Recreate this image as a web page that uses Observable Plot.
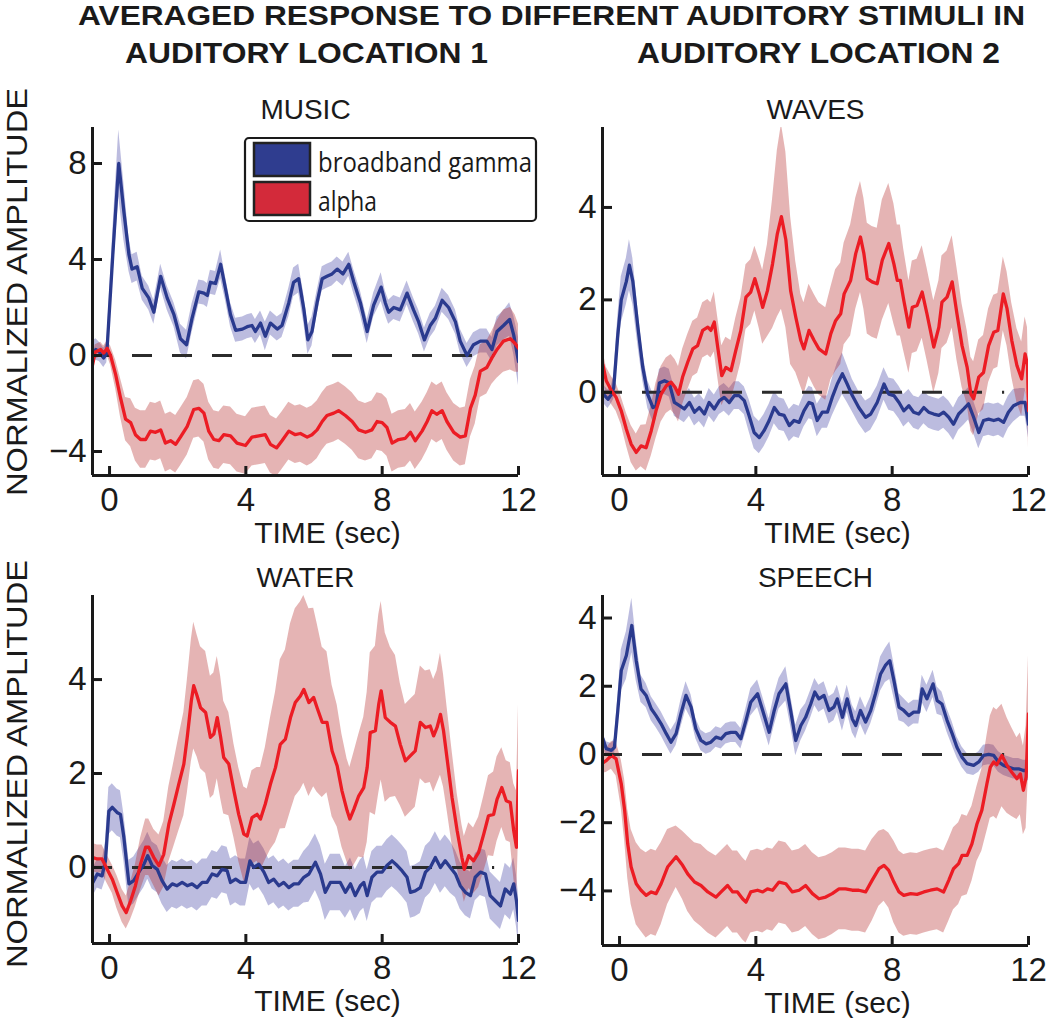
<!DOCTYPE html>
<html><head><meta charset="utf-8">
<script src="https://cdn.jsdelivr.net/npm/d3@7"></script>
<script src="https://cdn.jsdelivr.net/npm/@observablehq/plot@0.6"></script>
<style>
body{margin:0;background:#fff;}
#root{position:relative;width:1050px;height:1018px;overflow:hidden;font-family:"Liberation Sans",Arial,sans-serif;}
#root svg{position:absolute;overflow:visible;}
</style></head><body><div id="root"></div>
<script>
// ---------- DATA ----------
const titleLine1 = "AVERAGED RESPONSE TO DIFFERENT AUDITORY STIMULI IN";
const locationLabels = ["AUDITORY LOCATION 1", "AUDITORY LOCATION 2"];
const panelTitles = ["MUSIC", "WAVES", "WATER", "SPEECH"];
const yAxisLabel = "NORMALIZED AMPLITUDE";
const xAxisLabel = "TIME (sec)";
const seriesNames = ["broadband gamma", "alpha"];
const xTicks = [0, 4, 8, 12];
const xDomain = [-0.5, 12];

// MUSIC
const musicGammaT = [-0.5,-0.4,-0.3,-0.17,-0.08,0.1,0.27,0.42,0.57,0.66,0.81,0.96,1.15,1.3,1.5,1.69,1.89,2.08,2.26,2.42,2.62,2.77,2.87,2.96,3.11,3.26,3.4,3.55,3.7,3.9,4.04,4.18,4.28,4.43,4.57,4.72,4.92,5.06,5.26,5.4,5.55,5.7,5.82,5.94,6.09,6.24,6.38,6.53,6.68,6.85,7.02,7.17,7.36,7.56,7.75,7.97,8.09,8.19,8.34,8.53,8.73,8.92,9.07,9.24,9.41,9.56,9.76,9.95,10.15,10.29,10.49,10.68,10.88,11.07,11.22,11.37,11.56,11.74,11.86,12.0];
const musicGamma = [0.1,0.25,0.15,-0.1,0.1,4.3,8.0,6.0,4.2,3.6,3.7,2.8,2.4,1.8,3.3,2.4,1.7,0.7,0.45,1.55,2.65,2.6,2.5,3.05,3.0,3.8,2.8,1.7,1.05,1.1,1.2,1.25,1.0,1.35,0.8,1.35,1.1,1.25,2.2,3.05,3.2,1.95,0.65,1.0,2.2,3.2,3.3,3.4,3.6,3.4,3.8,3.05,2.2,1.0,2.1,2.85,2.2,1.8,2.0,1.9,2.6,1.9,1.4,0.65,1.25,1.55,2.3,2.0,1.4,0.6,0.0,0.45,0.6,0.6,0.25,1.0,1.25,1.5,0.85,-0.25];
const musicGammaErr = [0.5,0.45,0.4,0.4,0.4,1.0,1.4,1.2,0.7,0.6,0.6,0.5,0.5,0.5,0.5,0.5,0.5,0.6,0.6,0.6,0.5,0.5,0.5,0.5,0.5,0.6,0.5,0.5,0.5,0.5,0.5,0.5,0.5,0.5,0.6,0.5,0.5,0.5,0.6,0.6,0.6,0.6,0.6,0.6,0.5,0.5,0.5,0.5,0.5,0.5,0.5,0.5,0.5,0.5,0.5,0.6,0.5,0.5,0.5,0.5,0.5,0.5,0.5,0.5,0.5,0.5,0.5,0.5,0.5,0.5,0.5,0.5,0.5,0.5,0.5,0.6,0.6,0.7,0.8,1.0];
const musicAlphaT = [-0.5,-0.42,-0.26,-0.17,-0.07,0.03,0.18,0.32,0.47,0.62,0.76,0.91,1.06,1.2,1.35,1.5,1.64,1.79,1.94,2.08,2.28,2.47,2.62,2.77,2.91,3.06,3.21,3.35,3.55,3.74,3.99,4.18,4.38,4.57,4.72,4.9,5.06,5.26,5.45,5.6,5.8,5.94,6.09,6.24,6.38,6.58,6.72,6.92,7.12,7.31,7.51,7.7,7.85,8.0,8.14,8.29,8.48,8.68,8.83,8.97,9.17,9.32,9.46,9.6,9.76,9.9,10.1,10.29,10.44,10.59,10.73,10.88,11.07,11.22,11.37,11.56,11.76,11.9,12.0];
const musicAlpha = [-0.4,0.15,0.25,0.1,0.3,0.0,-0.8,-1.75,-2.65,-2.8,-3.3,-3.5,-3.5,-3.15,-3.2,-3.1,-3.65,-3.55,-3.7,-3.4,-2.95,-2.25,-2.2,-2.4,-3.15,-3.5,-3.55,-3.3,-3.35,-3.65,-3.75,-3.4,-3.35,-3.3,-3.7,-3.85,-3.55,-3.15,-3.3,-3.25,-3.4,-3.3,-3.1,-2.75,-2.5,-2.4,-2.3,-2.5,-2.75,-3.1,-3.2,-3.1,-2.75,-2.8,-3.0,-3.65,-3.5,-3.45,-3.2,-3.55,-3.15,-2.75,-2.3,-2.45,-2.3,-2.75,-3.2,-3.4,-3.35,-2.2,-1.65,-0.65,-0.5,-0.1,0.25,0.6,0.7,0.5,0.3];
const musicAlphaErr = [0.3,0.3,0.3,0.3,0.3,0.4,0.6,0.8,0.9,1.0,1.1,1.2,1.2,1.2,1.2,1.2,1.2,1.2,1.2,1.2,1.2,1.2,1.2,1.2,1.2,1.2,1.2,1.2,1.2,1.2,1.2,1.2,1.2,1.2,1.2,1.2,1.2,1.2,1.2,1.2,1.2,1.2,1.2,1.2,1.2,1.2,1.2,1.2,1.2,1.2,1.2,1.2,1.2,1.2,1.2,1.2,1.2,1.2,1.2,1.2,1.2,1.2,1.2,1.2,1.2,1.2,1.2,1.2,1.2,1.2,1.2,1.1,1.1,1.1,1.2,1.3,1.3,1.2,1.0];

// WAVES
const wavesGammaT = [-0.46,-0.34,-0.24,-0.17,-0.05,0.05,0.2,0.29,0.39,0.54,0.68,0.83,0.98,1.07,1.17,1.32,1.46,1.61,1.76,1.9,2.05,2.2,2.34,2.49,2.63,2.78,2.93,3.07,3.22,3.37,3.51,3.66,3.8,3.95,4.1,4.24,4.39,4.54,4.68,4.83,4.98,5.12,5.27,5.41,5.56,5.66,5.8,5.95,6.1,6.24,6.39,6.54,6.68,6.83,7.02,7.22,7.37,7.56,7.76,7.9,8.05,8.2,8.34,8.49,8.63,8.78,8.93,9.07,9.22,9.37,9.51,9.66,9.8,9.95,10.1,10.24,10.39,10.54,10.68,10.83,10.98,11.12,11.27,11.41,11.56,11.76,11.9,12.0];
const wavesGamma = [-0.05,-0.15,-0.05,0.1,1.25,2.0,2.4,2.75,2.4,1.4,0.55,-0.05,-0.33,-0.3,0.2,0.25,0.2,-0.22,-0.29,-0.36,-0.22,-0.43,-0.33,-0.47,-0.22,-0.36,-0.18,-0.11,-0.22,-0.07,-0.07,-0.18,-0.5,-0.87,-0.98,-0.83,-0.61,-0.33,-0.47,-0.5,-0.72,-0.61,-0.65,-0.4,-0.22,-0.25,-0.61,-0.43,-0.43,-0.11,0.18,0.4,0.18,-0.07,-0.33,-0.54,-0.47,-0.22,0.18,-0.04,-0.07,-0.22,-0.4,-0.29,-0.43,-0.47,-0.33,-0.43,-0.47,-0.5,-0.43,-0.54,-0.69,-0.47,-0.36,-0.25,-0.54,-0.87,-0.61,-0.58,-0.61,-0.58,-0.65,-0.43,-0.29,-0.22,-0.22,-0.69];
const wavesGammaErr = [0.2,0.2,0.2,0.25,0.4,0.5,0.5,0.55,0.5,0.4,0.3,0.3,0.3,0.3,0.3,0.3,0.3,0.3,0.3,0.3,0.3,0.3,0.3,0.3,0.3,0.3,0.3,0.3,0.3,0.3,0.3,0.3,0.35,0.35,0.35,0.35,0.35,0.35,0.35,0.35,0.35,0.35,0.35,0.35,0.35,0.35,0.35,0.35,0.35,0.4,0.45,0.45,0.4,0.35,0.35,0.35,0.35,0.35,0.35,0.35,0.35,0.35,0.35,0.35,0.35,0.35,0.35,0.35,0.35,0.35,0.35,0.35,0.35,0.35,0.35,0.35,0.35,0.35,0.35,0.35,0.35,0.35,0.35,0.35,0.35,0.3,0.3,0.3];
const wavesAlphaT = [-0.49,-0.39,-0.24,-0.1,0.05,0.2,0.34,0.49,0.63,0.78,0.93,1.07,1.22,1.37,1.51,1.63,1.73,1.85,2.0,2.15,2.29,2.44,2.59,2.68,2.78,2.88,3.0,3.12,3.27,3.41,3.56,3.71,3.85,3.97,4.1,4.2,4.34,4.49,4.63,4.75,4.88,5.02,5.17,5.32,5.41,5.56,5.71,5.85,6.05,6.2,6.34,6.49,6.59,6.78,6.93,7.07,7.17,7.27,7.41,7.56,7.71,7.9,8.05,8.15,8.24,8.34,8.49,8.59,8.73,8.88,9.02,9.22,9.37,9.46,9.61,9.76,9.9,10.05,10.2,10.31,10.39,10.54,10.68,10.83,10.98,11.1,11.26,11.37,11.51,11.66,11.8,11.9,11.97,12.0];
const wavesAlpha = [0.6,0.25,0.04,-0.11,-0.4,-0.8,-1.12,-1.3,-1.16,-1.2,-0.83,-0.4,-0.04,0.14,0.22,0.11,-0.04,0.33,0.65,0.94,1.01,1.34,1.41,1.34,1.52,0.98,0.36,0.54,0.47,0.9,1.34,2.06,2.17,2.46,2.13,1.84,2.2,2.78,3.43,3.8,3.3,2.2,1.63,1.12,0.94,1.34,1.12,0.94,0.83,1.27,1.55,1.7,2.13,2.42,3.0,3.36,3.0,2.46,2.39,2.35,2.86,3.22,2.78,2.42,2.42,1.99,1.41,1.84,1.88,2.17,1.7,0.98,1.41,1.95,2.06,2.39,1.7,1.01,0.54,-0.04,-0.14,0.33,0.43,1.01,1.3,1.34,2.13,1.81,1.12,0.58,0.29,0.83,0.6,-0.4];
const wavesAlphaErr = [0.3,0.3,0.3,0.3,0.3,0.35,0.4,0.4,0.45,0.5,0.55,0.6,0.6,0.6,0.6,0.6,0.6,0.6,0.6,0.6,0.6,0.6,0.6,0.6,0.65,0.65,0.65,0.65,0.65,0.7,0.7,0.7,0.7,0.7,0.75,0.8,1.0,1.4,1.8,2.0,1.9,1.6,1.2,1.0,1.0,1.0,1.0,1.0,1.0,1.0,1.1,1.1,1.1,1.2,1.2,1.2,1.2,1.2,1.2,1.2,1.3,1.3,1.3,1.2,1.2,1.1,1.0,1.0,1.0,1.0,1.0,1.0,1.0,1.0,1.0,1.0,1.0,0.9,0.8,0.8,0.8,0.8,0.8,0.8,0.8,0.8,0.8,0.8,0.8,0.8,0.8,0.8,0.8,0.8];

// WATER
const waterGammaT = [-0.49,-0.36,-0.22,-0.12,-0.02,0.08,0.22,0.32,0.42,0.57,0.71,0.86,1.01,1.12,1.25,1.4,1.54,1.69,1.84,1.98,2.13,2.28,2.42,2.57,2.72,2.86,3.01,3.16,3.3,3.45,3.55,3.7,3.84,3.99,4.12,4.23,4.38,4.53,4.67,4.82,4.97,5.11,5.26,5.41,5.55,5.7,5.85,6.04,6.19,6.33,6.48,6.63,6.77,6.92,7.07,7.21,7.36,7.46,7.56,7.7,7.85,8.0,8.14,8.29,8.44,8.58,8.73,8.83,8.97,9.12,9.27,9.41,9.56,9.71,9.85,10.0,10.15,10.29,10.44,10.59,10.73,10.88,11.03,11.17,11.32,11.47,11.61,11.76,11.86,11.94,12.0];
const waterGamma = [-0.32,-0.14,-0.18,0.14,1.2,1.28,1.17,1.13,0.64,-0.35,-0.28,-0.1,0.07,0.25,0.04,-0.04,-0.28,-0.46,-0.35,-0.39,-0.32,-0.39,-0.35,-0.43,-0.32,-0.32,-0.14,-0.18,-0.04,-0.07,-0.32,-0.25,-0.32,-0.32,0.14,0.0,0.07,-0.1,-0.32,-0.25,-0.39,-0.32,-0.43,-0.35,-0.35,-0.21,-0.14,0.11,-0.14,-0.53,-0.32,-0.32,-0.32,-0.53,-0.35,-0.6,-0.39,-0.32,-0.6,-0.21,-0.1,-0.1,0.04,0.14,0.04,-0.07,-0.21,-0.53,-0.5,-0.43,-0.1,0.0,0.21,0.0,0.14,0.0,-0.14,-0.39,-0.53,-0.6,-0.21,-0.1,-0.14,-0.6,-0.71,-0.82,-0.46,-0.57,-0.35,-0.71,-1.13];
const waterGammaErr = [0.3,0.3,0.3,0.4,0.5,0.5,0.5,0.5,0.5,0.5,0.5,0.5,0.5,0.5,0.5,0.5,0.5,0.5,0.5,0.5,0.5,0.5,0.5,0.5,0.5,0.5,0.5,0.5,0.5,0.5,0.5,0.5,0.5,0.5,0.5,0.5,0.5,0.5,0.5,0.5,0.5,0.5,0.5,0.5,0.5,0.55,0.6,0.6,0.6,0.6,0.6,0.6,0.6,0.55,0.55,0.55,0.55,0.55,0.55,0.55,0.55,0.55,0.55,0.55,0.55,0.55,0.55,0.55,0.55,0.55,0.55,0.55,0.55,0.55,0.55,0.55,0.5,0.5,0.5,0.5,0.5,0.5,0.5,0.5,0.5,0.5,0.55,0.55,0.55,0.55,0.55];
const waterAlphaT = [-0.49,-0.36,-0.22,-0.07,0.08,0.22,0.37,0.49,0.62,0.76,0.91,1.06,1.15,1.3,1.45,1.59,1.74,1.89,2.03,2.18,2.28,2.4,2.47,2.57,2.67,2.82,2.96,3.06,3.16,3.26,3.35,3.5,3.65,3.79,3.94,4.04,4.18,4.33,4.43,4.57,4.72,4.87,5.01,5.16,5.31,5.45,5.6,5.7,5.85,5.99,6.09,6.24,6.38,6.53,6.68,6.82,6.97,7.05,7.17,7.31,7.46,7.56,7.65,7.8,7.9,7.97,8.09,8.24,8.39,8.53,8.68,8.83,8.97,9.12,9.27,9.41,9.51,9.61,9.71,9.8,9.9,10.05,10.2,10.34,10.41,10.54,10.68,10.83,10.98,11.12,11.27,11.37,11.51,11.64,11.76,11.86,11.94,12.0];
const waterAlpha = [0.21,0.18,0.18,-0.04,-0.25,-0.53,-0.82,-0.96,-0.71,-0.39,0.07,0.43,0.43,0.21,0.04,0.28,0.92,1.35,1.77,2.2,2.77,3.55,3.87,3.65,3.4,3.3,2.77,2.84,3.19,2.77,2.34,2.2,1.63,1.13,0.71,0.67,1.06,1.13,1.03,1.35,1.77,2.13,2.62,2.73,3.19,3.51,3.65,3.79,3.51,3.62,3.4,3.09,3.09,2.48,2.16,1.63,1.21,1.03,1.24,1.52,1.7,2.13,2.87,2.91,3.48,3.76,3.19,3.09,3.01,2.62,2.27,2.38,2.48,3.09,2.98,3.01,2.8,2.98,3.26,2.91,2.34,1.49,0.78,0.21,-0.04,0.25,0.14,0.32,0.71,1.1,1.13,1.45,1.7,1.42,1.38,0.78,0.43,2.06];
const waterAlphaErr = [0.3,0.3,0.3,0.3,0.3,0.35,0.35,0.35,0.4,0.45,0.55,0.6,0.6,0.6,0.65,0.7,0.8,0.9,1.0,1.1,1.2,1.3,1.35,1.3,1.3,1.3,1.3,1.3,1.3,1.3,1.2,1.1,1.0,1.0,1.0,1.0,1.0,1.0,1.1,1.2,1.4,1.6,1.8,1.9,2.0,2.0,2.0,2.0,2.0,1.9,1.8,1.6,1.5,1.4,1.3,1.2,1.1,1.1,1.2,1.3,1.5,1.6,1.7,1.8,1.9,1.9,1.8,1.6,1.5,1.3,1.2,1.2,1.2,1.2,1.2,1.2,1.2,1.2,1.3,1.2,1.1,1.0,0.8,0.7,0.7,0.7,0.7,0.75,0.8,0.85,0.9,0.9,0.85,0.85,0.85,1.0,1.2,1.4];

// SPEECH
const speechGammaT = [-0.49,-0.39,-0.24,-0.15,-0.05,0.05,0.2,0.36,0.49,0.63,0.78,0.93,1.07,1.22,1.37,1.51,1.66,1.8,1.95,2.1,2.24,2.39,2.54,2.68,2.83,2.98,3.12,3.27,3.41,3.56,3.71,3.85,4.05,4.2,4.39,4.54,4.68,4.88,5.02,5.17,5.32,5.46,5.61,5.73,5.85,6.0,6.15,6.29,6.39,6.54,6.68,6.83,6.93,7.07,7.22,7.37,7.51,7.66,7.8,7.93,8.05,8.2,8.34,8.49,8.63,8.78,8.88,9.02,9.2,9.32,9.46,9.61,9.76,9.9,10.05,10.2,10.39,10.54,10.68,10.83,10.98,11.12,11.27,11.41,11.56,11.71,11.85,12.0];
const speechGamma = [0.46,0.17,0.12,0.21,1.29,2.46,2.9,3.78,2.75,1.92,1.73,1.34,1.14,0.9,0.61,0.36,0.61,1.19,1.73,1.39,0.75,0.41,0.31,0.36,0.51,0.46,0.61,0.65,0.65,0.46,1.0,1.53,1.78,1.29,0.65,1.29,1.78,2.07,1.29,0.41,0.85,1.09,1.48,1.83,1.63,1.73,1.29,1.39,1.63,1.09,1.63,1.04,0.85,1.29,0.95,1.29,1.78,2.36,2.61,2.75,2.17,1.39,1.29,1.14,1.24,1.24,1.92,1.63,2.07,1.58,1.48,1.0,0.61,0.21,-0.08,-0.27,-0.32,-0.22,-0.03,0.0,-0.03,-0.22,-0.32,-0.37,-0.42,-0.42,-0.47,-0.47];
const speechGammaErr = [0.2,0.2,0.2,0.25,0.4,0.6,0.7,0.8,0.6,0.4,0.35,0.35,0.35,0.35,0.35,0.35,0.35,0.4,0.4,0.35,0.3,0.3,0.3,0.3,0.3,0.3,0.3,0.3,0.3,0.3,0.35,0.4,0.4,0.4,0.4,0.45,0.45,0.5,0.45,0.45,0.45,0.4,0.4,0.4,0.4,0.4,0.4,0.4,0.4,0.4,0.4,0.4,0.4,0.4,0.4,0.4,0.45,0.5,0.5,0.55,0.5,0.4,0.35,0.35,0.35,0.35,0.4,0.4,0.4,0.4,0.35,0.35,0.35,0.3,0.3,0.3,0.3,0.3,0.3,0.3,0.3,0.3,0.3,0.3,0.3,0.3,0.3,0.3];
const speechAlphaT = [-0.5,-0.39,-0.24,-0.1,0.05,0.15,0.24,0.34,0.49,0.63,0.78,0.93,1.07,1.22,1.41,1.66,1.85,2.0,2.2,2.39,2.59,2.83,2.98,3.17,3.32,3.46,3.61,3.71,3.85,4.05,4.2,4.34,4.49,4.68,4.88,5.07,5.27,5.46,5.66,5.85,6.05,6.24,6.44,6.63,6.83,7.02,7.22,7.41,7.61,7.76,7.9,8.05,8.2,8.34,8.54,8.73,8.93,9.12,9.32,9.51,9.66,9.8,9.95,10.05,10.2,10.34,10.49,10.63,10.78,10.88,10.98,11.07,11.22,11.37,11.51,11.66,11.76,11.85,11.93,12.0];
const speechAlpha = [-0.25,-0.18,-0.03,-0.13,-0.86,-1.64,-2.62,-3.3,-3.79,-3.98,-4.13,-4.03,-4.08,-3.79,-3.3,-3.0,-3.25,-3.5,-3.74,-3.84,-4.03,-4.18,-4.03,-3.84,-4.03,-4.03,-4.23,-4.33,-4.03,-3.98,-4.03,-3.94,-3.98,-3.74,-3.79,-4.03,-3.98,-3.84,-4.08,-4.23,-4.18,-4.08,-3.94,-3.94,-3.98,-3.98,-4.03,-3.69,-3.35,-3.25,-3.4,-3.74,-4.03,-4.13,-4.08,-4.1,-4.03,-3.98,-3.94,-4.03,-3.69,-3.35,-3.2,-2.96,-2.96,-2.62,-2.03,-1.64,-0.86,-0.37,-0.22,-0.3,-0.03,-0.32,-0.52,-0.71,-0.57,-1.05,-0.66,1.19];
const speechAlphaErr = [0.3,0.35,0.4,0.5,0.7,0.9,1.0,1.1,1.2,1.2,1.25,1.25,1.25,1.2,1.1,0.9,1.0,1.1,1.15,1.2,1.2,1.2,1.2,1.2,1.2,1.2,1.2,1.2,1.2,1.2,1.2,1.2,1.2,1.2,1.2,1.2,1.2,1.2,1.2,1.2,1.2,1.2,1.2,1.2,1.2,1.2,1.2,1.2,1.1,1.05,1.1,1.2,1.2,1.2,1.2,1.2,1.2,1.2,1.2,1.2,1.2,1.2,1.2,1.2,1.15,1.1,1.1,1.2,1.4,1.5,1.6,1.6,1.5,1.4,1.3,1.2,1.2,1.3,1.5,1.7];

// ---------- STYLE ----------
const GAMMA_LINE = "#2a3a8e", ALPHA_LINE = "#ec1c24";
const GAMMA_BAND = "#3a3aa2", ALPHA_BAND = "#b42222";
const GAMMA_SWATCH = "#2f3d8f", ALPHA_SWATCH = "#d32a3a";
const FONT = '"Liberation Sans", Arial, Helvetica, sans-serif';
const INK = "#1a1a1a";

function rows(T, V, E) { return T.map((t, i) => ({t, v: V[i], e: E[i]})); }

const panels = [
  {title: panelTitles[0], g: rows(musicGammaT, musicGamma, musicGammaErr), a: rows(musicAlphaT, musicAlpha, musicAlphaErr),
   yDomain: [-5, 9.5], yTicks: [-4, 0, 4, 8], left: 92, top: 127, h: 348},
  {title: panelTitles[1], g: rows(wavesGammaT, wavesGamma, wavesGammaErr), a: rows(wavesAlphaT, wavesAlpha, wavesAlphaErr),
   yDomain: [-1.8, 5.73], yTicks: [0, 2, 4], left: 602, top: 127, h: 348},
  {title: panelTitles[2], g: rows(waterGammaT, waterGamma, waterGammaErr), a: rows(waterAlphaT, waterAlpha, waterAlphaErr),
   yDomain: [-1.62, 5.79], yTicks: [0, 2, 4], left: 92, top: 595, h: 348},
  {title: panelTitles[3], g: rows(speechGammaT, speechGamma, speechGammaErr), a: rows(speechAlphaT, speechAlpha, speechAlphaErr),
   yDomain: [-5.6, 4.66], yTicks: [-4, -2, 0, 2, 4], left: 602, top: 595, h: 350}
];

const root = document.getElementById("root");
const W = 426, mL = 80, mR = 40, mT = 50, mB = 100;

for (const p of panels) {
  const [y0, y1] = p.yDomain;
  const xTickLen = 9 * (y1 - y0) / p.h;
  const yTickLen = 10 * (xDomain[1] - xDomain[0]) / W;
  const chart = Plot.plot({
    width: W + mL + mR, height: p.h + mT + mB,
    marginLeft: mL, marginRight: mR, marginTop: mT, marginBottom: mB,
    x: {domain: xDomain},
    y: {domain: p.yDomain},
    style: {fontFamily: FONT, background: "transparent", color: INK, overflow: "visible"},
    marks: [
      Plot.areaY(p.g, {x: "t", y1: d => d.v - d.e, y2: d => d.v + d.e, fill: GAMMA_BAND, fillOpacity: 0.34, clip: true}),
      Plot.areaY(p.a, {x: "t", y1: d => d.v - d.e, y2: d => d.v + d.e, fill: ALPHA_BAND, fillOpacity: 0.34, clip: true}),
      Plot.ruleY([0], {x1: -0.5, x2: 11.3, stroke: "#2b2b2b", strokeWidth: 3, strokeDasharray: "20,20"}),
      Plot.line(p.g, {x: "t", y: "v", stroke: GAMMA_LINE, strokeWidth: 3.3, clip: true}),
      Plot.line(p.a, {x: "t", y: "v", stroke: ALPHA_LINE, strokeWidth: 3.3, clip: true}),
      Plot.axisX({ticks: xTicks, tickSize: 0, tickPadding: 12, fontSize: 33, label: null, tickFormat: d => d}),
      Plot.axisY({ticks: p.yTicks, tickSize: 0, tickPadding: 6, fontSize: 33, label: null}),
      Plot.ruleX([xDomain[0]], {y1: y0, y2: y1, stroke: INK, strokeWidth: 3}),
      Plot.ruleY([y0], {x1: xDomain[0], x2: xDomain[1], stroke: INK, strokeWidth: 3}),
      Plot.ruleX(xTicks, {x: d => d, y1: y0, y2: y0 + xTickLen, stroke: INK, strokeWidth: 3}),
      Plot.ruleY(p.yTicks, {y: d => d, x1: xDomain[0], x2: xDomain[0] + yTickLen, stroke: INK, strokeWidth: 3}),
      Plot.text([p.title], {frameAnchor: "top", lineAnchor: "bottom", dy: -9, fontSize: 28, fill: INK}),
      Plot.text([xAxisLabel], {frameAnchor: "bottom", lineAnchor: "bottom", dx: 22, dy: 67, fontSize: 30, fill: INK})
    ]
  });
  chart.style.left = (p.left - mL) + "px";
  chart.style.top = (p.top - mT) + "px";
  root.appendChild(chart);
}

// ---------- overlay: titles, y labels, legend ----------
const ov = d3.select(root).append("svg").attr("width", 1050).attr("height", 1018)
  .style("left", "0px").style("top", "0px").style("pointer-events", "none");

const titleFont = '"Liberation Sans Narrow", "Liberation Sans", Arial, sans-serif';
ov.append("text").text(titleLine1).attr("x", 78).attr("y", 25)
  .attr("font-family", titleFont).attr("font-weight", "bold").attr("font-size", 28).attr("fill", INK)
  .attr("textLength", 947).attr("lengthAdjust", "spacingAndGlyphs");
[[125, 363], [637, 363]].forEach(([x, len], i) => {
  ov.append("text").text(locationLabels[i]).attr("x", x).attr("y", 63)
    .attr("font-family", titleFont).attr("font-weight", "bold").attr("font-size", 30).attr("fill", INK)
    .attr("textLength", len).attr("lengthAdjust", "spacingAndGlyphs");
});

[292, 764].forEach(cy => {
  ov.append("text").text(yAxisLabel)
    .attr("transform", `translate(27,${cy}) rotate(-90)`)
    .attr("text-anchor", "middle").attr("font-family", FONT).attr("font-size", 30).attr("fill", INK)
    .attr("textLength", 408).attr("lengthAdjust", "spacingAndGlyphs");
});

const lg = ov.append("g");
lg.append("rect").attr("x", 245).attr("y", 138).attr("width", 291).attr("height", 83).attr("rx", 4)
  .attr("fill", "#fff").attr("stroke", INK).attr("stroke-width", 2.2);
const swatches = [GAMMA_SWATCH, ALPHA_SWATCH];
const legendFont = '"Open Sans", "Noto Sans", sans-serif';
seriesNames.forEach((name, i) => {
  const y = 143 + i * 39;
  lg.append("rect").attr("x", 254).attr("y", y).attr("width", 56).attr("height", 33)
    .attr("fill", swatches[i]).attr("stroke", "#222").attr("stroke-width", 2.5);
  const t = lg.append("text").text(name).attr("x", 318).attr("y", y + 29)
    .attr("font-family", legendFont).attr("font-size", 27).attr("fill", INK);
  t.attr("textLength", i === 0 ? 214 : 59).attr("lengthAdjust", "spacingAndGlyphs");
});
</script>
</body></html>
